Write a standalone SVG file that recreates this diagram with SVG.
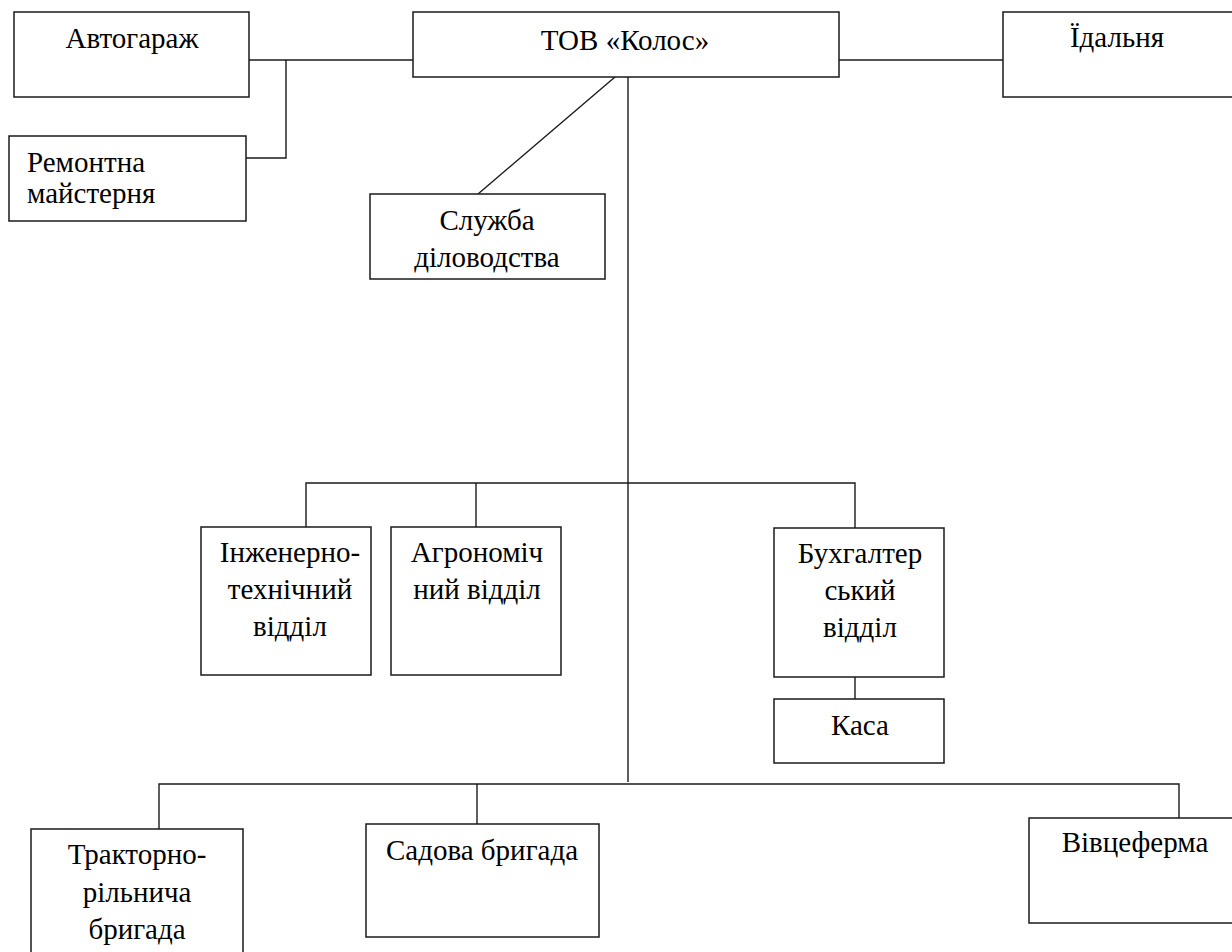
<svg xmlns="http://www.w3.org/2000/svg" width="1232" height="952" viewBox="0 0 1232 952">
<style>
.box{fill:#fff;stroke:#1a1a1a;stroke-width:1.5}
.ln{fill:none;stroke:#1a1a1a;stroke-width:1.4}
text{font-family:'Liberation Serif','Times New Roman',serif;font-size:29px;fill:#000}
.c{text-anchor:middle}
</style>
<rect width="1232" height="952" fill="#fff"/>
<g id="connectors">
<path class="ln" d="M249,60 H413"/>
<path class="ln" d="M286,60 V158 H246"/>
<path class="ln" d="M839,60 H1003"/>
<path class="ln" d="M615,77 L478,194"/>
<path class="ln" d="M628,77 V782"/>
<path class="ln" d="M306,527 V483 H855 V528"/>
<path class="ln" d="M476,483 V527"/>
<path class="ln" d="M855,677 V699"/>
<path class="ln" d="M159,829 V784 H1179 V830"/>
<path class="ln" d="M477,784 V835"/>
</g>
<g id="avtogarazh"><rect class="box" x="14" y="12" width="235" height="85"/><text class="c" x="132" y="48">Автогараж</text></g>
<g id="remontna"><rect class="box" x="9" y="136" width="237" height="85"/><text x="27" y="172">Ремонтна</text><text x="27" y="203">майстерня</text></g>
<g id="tov"><rect class="box" x="413" y="12" width="426" height="65"/><text class="c" x="625" y="50">ТОВ «Колос»</text></g>
<g id="idalnia"><rect class="box" x="1003" y="12" width="240" height="85"/><text class="c" x="1117" y="47">Їдальня</text></g>
<g id="sluzhba"><rect class="box" x="370" y="194" width="235" height="85"/><text class="c" x="487" y="230">Служба</text><text class="c" x="487" y="267">діловодства</text></g>
<g id="inzh"><rect class="box" x="201" y="527" width="170" height="148"/><text class="c" x="290" y="562">Інженерно-</text><text class="c" x="290" y="599">технічний</text><text class="c" x="290" y="636">відділ</text></g>
<g id="agro"><rect class="box" x="391" y="527" width="170" height="148"/><text class="c" x="477" y="562">Агрономіч</text><text class="c" x="477" y="599">ний відділ</text></g>
<g id="buh"><rect class="box" x="774" y="528" width="170" height="149"/><text class="c" x="860" y="563">Бухгалтер</text><text class="c" x="860" y="600">ський</text><text class="c" x="860" y="637">відділ</text></g>
<g id="kasa"><rect class="box" x="774" y="699" width="170" height="64"/><text class="c" x="860" y="735">Каса</text></g>
<g id="traktorno"><rect class="box" x="31" y="829" width="212" height="140"/><text class="c" x="137" y="864">Тракторно-</text><text class="c" x="137" y="902">рільнича</text><text class="c" x="137" y="939">бригада</text></g>
<g id="sadova"><rect class="box" x="366" y="824" width="233" height="113"/><text class="c" x="482" y="860">Садова бригада</text></g>
<g id="vivtseferma"><rect class="box" x="1029" y="818" width="220" height="105"/><text class="c" x="1135" y="852">Вівцеферма</text></g>
</svg>
